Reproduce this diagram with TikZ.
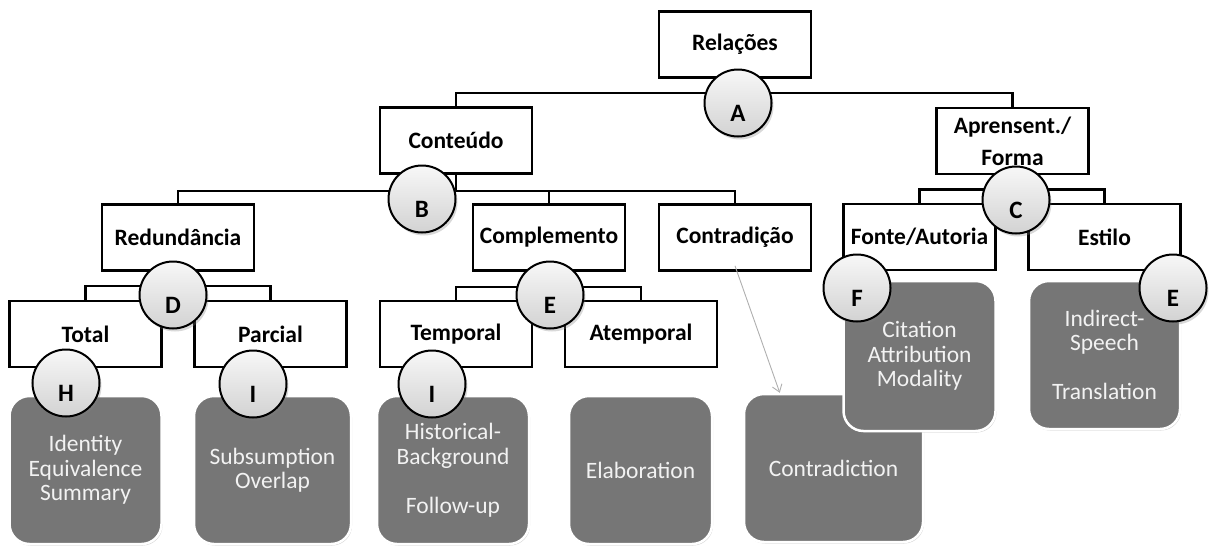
\documentclass[tikz,border=0pt]{standalone}
\usepackage{fontspec}
\setmainfont{Carlito}
\usetikzlibrary{shadows,arrows.meta,calc,backgrounds}

\definecolor{leafgray}{RGB}{118,118,118}
\definecolor{leaftext}{RGB}{242,242,242}
\definecolor{pointer}{RGB}{175,175,175}

\begin{document}
\begin{tikzpicture}[x=1pt,y=-1pt,
  catbox/.style={draw=black, line width=2.7pt, fill=white,
    minimum width=152pt, minimum height=66pt, inner sep=2pt,
    font=\fontsize{23.5}{32}\selectfont\bfseries, align=center},
  leaf/.style={draw=white, line width=2.5pt, fill=leafgray,
    rounded corners=20pt, minimum height=148pt, inner sep=2pt,
    text=leaftext, font=\fontsize{23.5}{24.5}\selectfont, align=center,
    drop shadow={shadow xshift=1pt, shadow yshift=-1.5pt, opacity=0.35}},
  badge/.style={circle, draw=black, line width=2pt,
    top color=gray!6, bottom color=gray!35,
    minimum size=67pt, inner sep=0pt,
    font=\fontsize{25}{26}\selectfont\bfseries,
    drop shadow={shadow xshift=2pt, shadow yshift=-3pt, opacity=0.3}},
  tree/.style={line width=2.5pt},
  pointerline/.style={draw=pointer, line width=0.9pt,
    -{Straight Barb[length=7pt,width=10pt]}}
]
\useasboundingbox (0,0) rectangle (1209,547);

% category boxes
\node[catbox] (rel)   at (735,44.5)  {Relações};
\node[catbox] (cont)  at (456,140.5) {Conteúdo};
\node[catbox] (apres) at (1012.5,141) {Aprensent./\\Forma};
\node[catbox] (red)   at (178,237.5) {Redundância};
\node[catbox] (comp)  at (549,237.5) {Complemento};
\node[catbox] (ctr)   at (735,237.5) {Contradição};
\node[catbox] (fonte) at (919.5,237) {Fonte/Autoria};
\node[catbox] (est)   at (1104.5,237) {Estilo};
\node[catbox] (tot)   at (85.5,334)  {Total};
\node[catbox] (parc)  at (270.5,334) {Parcial};
\node[catbox] (temp)  at (456,334)   {Temporal};
\node[catbox] (atemp) at (641,334)   {Atemporal};

% tree connectors, kept behind the boxes
\begin{scope}[on background layer]
\draw[tree] (rel.south) -- ++(0,14) -| (cont.north);
\draw[tree] (rel.south) -- ++(0,14) -| (apres.north);
\draw[tree] (cont.south) -- ++(0,16) -| (red.north);
\draw[tree] (cont.south) -- ++(0,16) -| (comp.north);
\draw[tree] (cont.south) -- ++(0,16) -| (ctr.north);
\draw[tree] (apres.south) -- ++(0,14) -| (fonte.north);
\draw[tree] (apres.south) -- ++(0,14) -| (est.north);
\draw[tree] (red.south) -- ++(0,14) -| (tot.north);
\draw[tree] (red.south) -- ++(0,14) -| (parc.north);
\draw[tree] (comp.south) -- ++(0,15) -| (temp.north);
\draw[tree] (comp.south) -- ++(0,15) -| (atemp.north);
\end{scope}

% relation leaves
\node[leaf, minimum width=152pt] (lid)   at (85.5,470)  {Identity\\Equivalence\\Summary};
\node[leaf, minimum width=157pt] (lsub)  at (272.5,470) {Subsumption\\Overlap};
\node[leaf, minimum width=152pt] (lhist) at (453,470)   {Historical-\\Background\\\strut\\Follow-up};
\node[leaf, minimum width=143pt] (lelab) at (640.5,470) {Elaboration};
\node[leaf, minimum width=179pt] (lctr)  at (833.5,468) {Contradiction};
\node[leaf, minimum width=152pt, minimum height=150pt] (lcit) at (919.5,356) {Citation\\Attribution\\Modality};
\node[leaf, minimum width=151pt] (lind)  at (1104.5,355) {Indirect-\\Speech\\\strut\\Translation};

\draw[pointerline] ([yshift=6pt]ctr.south) -- ([xshift=37pt]lctr.north west);

% letter badges
\node[badge] (bA)  at (738,103)  {\raisebox{-18pt}[0pt][0pt]{A}};
\node[badge] (bB)  at (422,199)  {\raisebox{-18pt}[0pt][0pt]{B}};
\node[badge] (bC)  at (1016,200) {\raisebox{-18pt}[0pt][0pt]{C}};
\node[badge] (bD)  at (173,295)  {\raisebox{-18pt}[0pt][0pt]{D}};
\node[badge] (bE1) at (550,295)  {\raisebox{-18pt}[0pt][0pt]{E}};
\node[badge] (bF)  at (857,288)  {\raisebox{-18pt}[0pt][0pt]{F}};
\node[badge] (bE2) at (1173,288) {\raisebox{-18pt}[0pt][0pt]{E}};
\node[badge] (bH)  at (66,383)   {\raisebox{-18pt}[0pt][0pt]{H}};
\node[badge] (bI1) at (253,384)  {\raisebox{-18pt}[0pt][0pt]{I}};
\node[badge] (bI2) at (432,384)  {\raisebox{-18pt}[0pt][0pt]{I}};
\end{tikzpicture}
\end{document}
